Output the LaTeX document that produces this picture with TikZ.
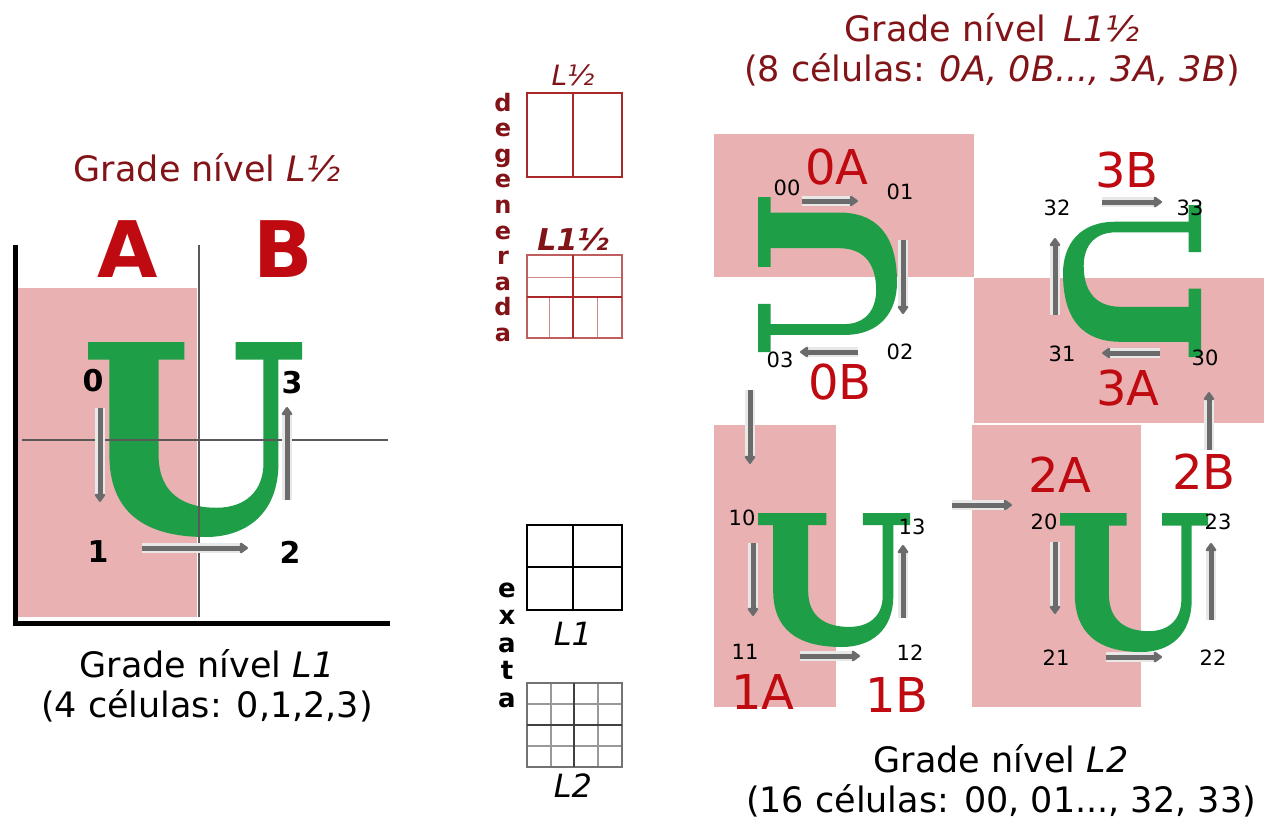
\documentclass[tikz,border=0pt]{standalone}
\usepackage{fontspec}
\setmainfont{DejaVu Sans}
\usetikzlibrary{arrows.meta,calc}

\definecolor{cellpink}{RGB}{233,177,177}
\definecolor{titlered}{RGB}{130,20,24}
\definecolor{labelred}{RGB}{190,10,16}
\definecolor{glyphgreen}{RGB}{31,158,72}
\definecolor{gridred}{RGB}{170,40,40}

\newcommand{\fsz}[2]{\fontsize{#1}{#2}\selectfont}

\tikzset{
    letterU/.pic={
        \fill[glyphgreen] (0,0) -- (0.45,0) -- (0.45,0.09) -- (0.33,0.09) -- (0.33,0.58)
            .. controls (0.33,0.78) and (0.45,0.85) .. (0.60,0.85)
            .. controls (0.74,0.85) and (0.82,0.76) .. (0.82,0.62)
            -- (0.82,0.09) -- (0.69,0.09) -- (0.69,0) -- (1,0) -- (1,0.09)
            -- (0.89,0.09) -- (0.89,0.62)
            .. controls (0.89,0.88) and (0.74,1) .. (0.55,1)
            .. controls (0.25,1) and (0.10,0.86) .. (0.10,0.58)
            -- (0.10,0.09) -- (0,0.09) -- cycle;
    }
}

\begin{document}
\begin{tikzpicture}[
        x=1pt, y=-1pt,
        every node/.style={inner sep=0pt},
        title/.style={font=\fsz{35}{40}, align=center},
        halfname/.style={font=\bfseries\fsz{78}{78}, text=labelred},
        cellname/.style={font=\fsz{48}{48}, text=labelred},
        cellnum/.style={font=\fsz{21}{21}},
        leafnum/.style={font=\bfseries\fsz{30}{30}},
        gridlabel/.style={font=\itshape\fsz{32}{32}},
        vletter/.style={font=\bfseries\fsz{24}{24}, anchor=base},
        pinkcell/.style={fill=cellpink},
        guide/.style={line width=1.5pt, draw=black!65},
        axis/.style={line width=5pt, draw=black},
        flow/.style={
            -{Triangle[length=9pt,width=12pt,round]},
            line width=5pt,
            draw=black!58,
            preaction={draw=black!9, line width=10pt}
        }
    ]
    \fill[white] (0,0) rectangle (1264,822);
    \useasboundingbox (0,0) rectangle (1264,822);

    % Grade L1 com as metades A e B
    \fill[pinkcell] (18,288) rectangle (197,617);
    \pic[xscale=214, yscale=195] at (88,342) {letterU};
    \draw[guide] (199,245) -- (199,617);
    \draw[guide] (22,440) -- (388,440);
    \draw[axis] (15,245) -- (15,623) -- (390,623);

    \node[title, text=titlered] (titleLh) at (207,168) {Grade nível \textit{L½}};
    \node[halfname] (hA) at (128,249) {A};
    \node[halfname] (hB) at (283,249) {B};
    \node[leafnum] (q0) at (93,381) {0};
    \node[leafnum] (q1) at (98,552) {1};
    \node[leafnum] (q2) at (290,552) {2};
    \node[leafnum] (q3) at (292,383) {3};
    \node[title] (titleL1) at (207,686) {Grade nível \textit{L1}\\(4 células: 0,1,2,3)};

    \draw[flow] ($(q0)+(7,27)$) -- ($(q1)+(2,-50)$);
    \draw[flow] ($(q1)+(44,-4)$) -- ($(q2)+(-42,-4)$);
    \draw[flow] ($(q2)+(-3,-52)$) -- ($(q3)+(-5,24)$);

    % Grades de referencia
    \node[gridlabel, font=\itshape\fsz{28}{28}, text=titlered] (degtop) at (573,75) {L½};
    \draw[gridred, line width=1.5pt] (527,93) rectangle (622,177) (573,93) -- (573,177);
    \foreach \ch [count=\i from 0] in {d,e,g,e,n,e,r,a,d,a}
        \node[vletter, text=titlered] (deg\i) at (503,{111+25.6*\i}) {\ch};

    \node[gridlabel, font=\bfseries\itshape\fsz{30}{30}, text=titlered] (degfine) at (573,240) {L1½};
    \draw[gridred!55, line width=1pt] (527,277) -- (622,277)
        (549,297) -- (549,338) (597,297) -- (597,338);
    \draw[gridred!75, line width=1.3pt] (527,255) rectangle (622,338);
    \draw[gridred, line width=1.8pt] (527,297) -- (622,297) (573,255) -- (573,338);

    \draw[line width=2pt] (527,525) rectangle (622,610)
        (573,525) -- (573,610) (527,567) -- (622,567);
    \node[gridlabel] (exL1) at (573,634) {L1};
    \foreach \ch [count=\i from 0] in {e,x,a,t,a}
        \node[vletter, font=\bfseries\fsz{26}{26}] (exa\i) at (507,{597+27.6*\i}) {\ch};

    \draw[black!40, line width=1.2pt] (527,704) -- (622,704) (527,746) -- (622,746)
        (551,683) -- (551,767) (598,683) -- (598,767);
    \draw[black!55, line width=1.2pt] (527,683) rectangle (622,767);
    \draw[black!75, line width=1.8pt] (527,725) -- (622,725) (574,683) -- (574,767);
    \node[gridlabel] (exL2) at (573,786) {L2};

    % Grade L1 1/2 e L2
    \fill[pinkcell] (714,134) rectangle (974,277);
    \fill[pinkcell] (974,278) rectangle (1264,423);
    \fill[pinkcell] (714,425) rectangle (836,707);
    \fill[pinkcell] (972,425) rectangle (1141,707);

    \pic[cm={0,-1,-1,0,(0,0)}, xscale=155, yscale=139] at (758,197) {letterU};
    \pic[cm={0,1,1,0,(0,0)}, xscale=152, yscale=138] at (1201,357) {letterU};
    \pic[xscale=152, yscale=134] at (758,513) {letterU};
    \pic[xscale=148, yscale=139] at (1060,513) {letterU};

    \node[title, text=titlered] (titleR) at (992,50)
        {Grade nível\hspace{0.5em}\textit{L1½}\\(8 células: \textit{0A, 0B..., 3A, 3B})};
    \node[title] (titleL2) at (1001,781)
        {Grade nível \textit{L2}\\(16 células: 00, 01..., 32, 33)};

    \node[cellname] (c0A) at (837,167) {0A};
    \node[cellname] (c0B) at (840,382) {0B};
    \node[cellname] (c3B) at (1127,170) {3B};
    \node[cellname] (c3A) at (1128,388) {3A};
    \node[cellname] (c1A) at (763,692) {1A};
    \node[cellname] (c1B) at (897,695) {1B};
    \node[cellname] (c2A) at (1060,475) {2A};
    \node[cellname] (c2B) at (1204,472) {2B};

    \node[cellnum] (n00) at (787,188) {00};
    \node[cellnum] (n01) at (900,192) {01};
    \node[cellnum] (n02) at (900,352) {02};
    \node[cellnum] (n03) at (780,360) {03};
    \node[cellnum] (n10) at (742,518) {10};
    \node[cellnum] (n11) at (745,652) {11};
    \node[cellnum] (n12) at (910,653) {12};
    \node[cellnum] (n13) at (912,527) {13};
    \node[cellnum] (n20) at (1044,522) {20};
    \node[cellnum] (n21) at (1056,658) {21};
    \node[cellnum] (n22) at (1213,658) {22};
    \node[cellnum] (n23) at (1218,522) {23};
    \node[cellnum] (n30) at (1205,358) {30};
    \node[cellnum] (n31) at (1062,354) {31};
    \node[cellnum] (n32) at (1057,208) {32};
    \node[cellnum] (n33) at (1190,208) {33};

    \draw[flow] ($(n00)+(15,13)$) -- ($(n01)+(-42,9)$);
    \draw[flow] ($(n01)+(3,48)$) -- ($(n02)+(3,-38)$);
    \draw[flow] ($(n02)+(-42,0)$) -- ($(n03)+(20,-8)$);
    \draw[flow] ($(n03)+(-30,30)$) -- ($(n10)+(8,-54)$);
    \draw[flow] ($(n10)+(11,25)$) -- ($(n11)+(8,-36)$);
    \draw[flow] ($(n11)+(55,4)$) -- ($(n12)+(-50,3)$);
    \draw[flow] ($(n12)+(-7,-35)$) -- ($(n13)+(-9,18)$);
    \draw[flow] ($(n13)+(40,-22)$) -- ($(n20)+(-32,-17)$);
    \draw[flow] ($(n20)+(11,20)$) -- ($(n21)+(-1,-44)$);
    \draw[flow] ($(n21)+(50,-1)$) -- ($(n22)+(-51,-1)$);
    \draw[flow] ($(n22)+(-2,-38)$) -- ($(n23)+(-7,21)$);
    \draw[flow] ($(n23)+(-9,-72)$) -- ($(n30)+(4,34)$);
    \draw[flow] ($(n30)+(-45,-5)$) -- ($(n31)+(40,-1)$);
    \draw[flow] ($(n31)+(-7,-39)$) -- ($(n32)+(-2,30)$);
    \draw[flow] ($(n32)+(45,-6)$) -- ($(n33)+(-28,-6)$);
\end{tikzpicture}
\end{document}
